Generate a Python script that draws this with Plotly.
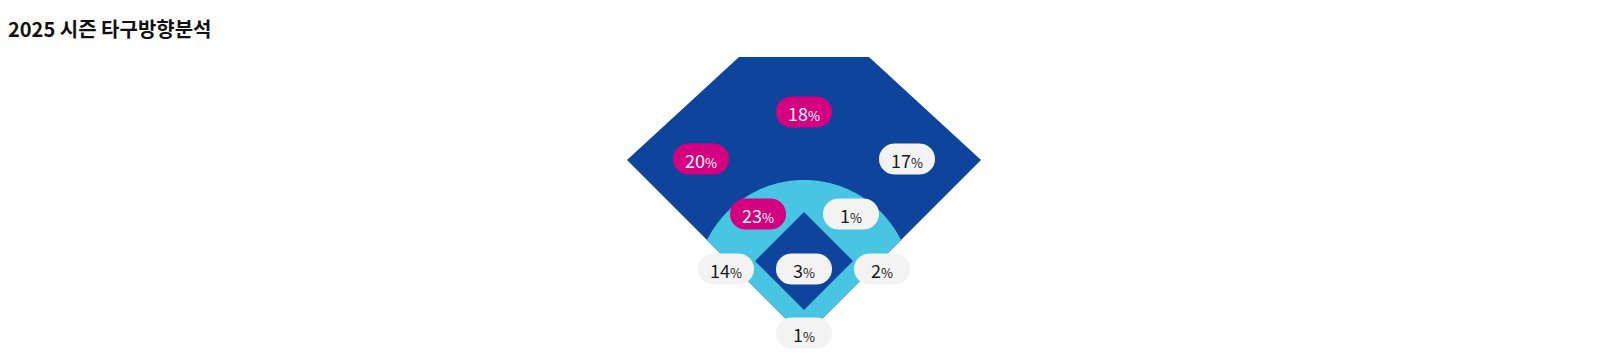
import numpy as np
import plotly.graph_objects as go

# ---------------- data ----------------
title_text = "2025 시즌 타구방향분석"
zones = ["좌익", "중견", "우익", "3유간", "1-2루간", "3루선", "투수", "1루선", "포수"]
pct = [20, 18, 17, 23, 1, 14, 3, 2, 1]

# ---------------- layout (pixel-like field coordinates, page pixels) ----------------
ZONE_POS = {
    "좌익": (701, 159),
    "중견": (804, 112),
    "우익": (907, 159),
    "3유간": (758, 214),
    "1-2루간": (851, 214),
    "3루선": (726, 269),
    "투수": (804, 269),
    "1루선": (882, 269),
    "포수": (804, 333),
}

W, H = 1610, 363
BODY = 8  # default page body margin
DARK = "#0E449B"
LIGHT = "#48C5E3"
MAGENTA = "#D5007F"
PILL = "#F3F3F3"

CX = 804
HOME_Y = 337
OUT_TOP = 57
OUT_TL = 739
OUT_TR = 869
SIDE_Y = 160
OUT_L = CX - (HOME_Y - SIDE_Y)
OUT_R = CX + (HOME_Y - SIDE_Y)

fig = go.Figure()
fig.add_trace(go.Scatter(x=[ZONE_POS[z][0] for z in zones], y=[ZONE_POS[z][1] for z in zones],
                         mode="markers", marker=dict(opacity=0), hoverinfo="skip", showlegend=False))

def poly(pts):
    return "M " + " L ".join(f"{x:.2f},{y:.2f}" for x, y in pts) + " Z"

shapes = []
# outfield
shapes.append(dict(type="path", path=poly([(OUT_TL, OUT_TOP), (OUT_TR, OUT_TOP), (OUT_R, SIDE_Y),
                                           (CX, HOME_Y), (OUT_L, SIDE_Y)]),
                   fillcolor=DARK, line=dict(width=0), layer="below"))

# infield dirt: circle clipped by foul lines
ccy, r = 288.4, 108.4
d = HOME_Y - ccy
t = (d + np.sqrt(d * d - 2 * (d * d - r * r))) / 2
ang_l = np.arctan2((HOME_Y - t) - ccy, -t)
ang_r = np.arctan2((HOME_Y - t) - ccy, t)
angs = np.linspace(ang_l, ang_r, 80)
arc = [(CX + r * np.cos(a), ccy + r * np.sin(a)) for a in angs]
shapes.append(dict(type="path", path=poly(arc + [(CX, HOME_Y)]),
                   fillcolor=LIGHT, line=dict(width=0), layer="below"))

# infield grass diamond
dtop, dhalf = 212, 49
shapes.append(dict(type="path", path=poly([(CX, dtop), (CX + dhalf, dtop + dhalf),
                                           (CX, dtop + 2 * dhalf), (CX - dhalf, dtop + dhalf)]),
                   fillcolor=DARK, line=dict(width=0), layer="below"))

# pills
PW, PH = 56, 31
top3 = sorted(pct, reverse=True)[2]
annotations = []

def pill_path(cx, cy, w, h):
    rr = h / 2
    x0, x1 = cx - w / 2 + rr, cx + w / 2 - rr
    pts = []
    for a in np.linspace(-np.pi / 2, np.pi / 2, 24):
        pts.append((x1 + rr * np.cos(a), cy + rr * np.sin(a)))
    for a in np.linspace(np.pi / 2, 3 * np.pi / 2, 24):
        pts.append((x0 + rr * np.cos(a), cy + rr * np.sin(a)))
    return poly(pts)

for z, v in zip(zones, pct):
    x, y = ZONE_POS[z]
    hi = v >= top3
    shapes.append(dict(type="path", path=pill_path(x, y, PW, PH),
                       fillcolor=MAGENTA if hi else PILL, line=dict(width=0), layer="below"))
    annotations.append(dict(x=x, y=y + 1, xref="x", yref="y", showarrow=False,
                            text=f"{v}<span style='font-size:13px'>%</span>",
                            font=dict(size=18, color="#FFFFFF" if hi else "#1A1A1A",
                                      family="Noto Sans CJK KR"),
                            xanchor="center", yanchor="middle"))

annotations.append(dict(x=0, y=1 - (28 - BODY) / (H - 2 * BODY), xref="paper", yref="paper",
                        showarrow=False, text=f"<b>{title_text}</b>",
                        font=dict(size=20, color="#111111", family="Noto Sans CJK KR"),
                        xanchor="left", yanchor="middle", xshift=-2))

fig.update_layout(
    width=W - 2 * BODY, height=H - 2 * BODY, autosize=False,
    margin=dict(l=0, r=0, t=0, b=0),
    paper_bgcolor="white", plot_bgcolor="white",
    xaxis=dict(range=[BODY, W - BODY], visible=False, fixedrange=True),
    yaxis=dict(range=[H - BODY, BODY], visible=False, fixedrange=True),
    shapes=shapes, annotations=annotations, showlegend=False,
)
fig.write_html("out.html")
